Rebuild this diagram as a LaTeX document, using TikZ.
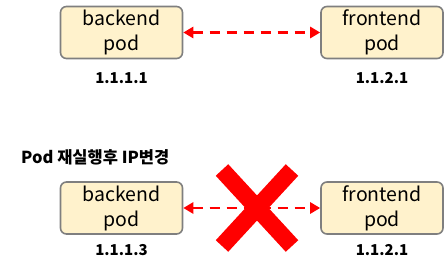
\documentclass[tikz,border=0pt]{standalone}
\usepackage{fontspec}
\setmainfont{Noto Sans CJK KR}
\usetikzlibrary{arrows.meta}
\definecolor{podfill}{HTML}{FFF2CC}
\definecolor{podline}{HTML}{7F7F7F}
\definecolor{xred}{HTML}{FF0000}
\tikzset{
  podbox/.style={draw=podline, line width=1.6pt, fill=podfill, rounded corners=6pt,
    minimum width=122pt, minimum height=52pt, align=center, inner sep=0pt,
    font=\fontsize{19.5}{25}\selectfont},
  iplabel/.style={font=\fontsize{15}{17}\selectfont\bfseries, inner sep=0pt},
  titlelabel/.style={font=\fontsize{16.5}{18}\selectfont\bfseries, inner sep=0pt},
  link/.style={draw=xred, line width=2.6pt, dash pattern=on 10pt off 7pt,
    {Triangle[length=10pt,width=11pt]}-{Triangle[length=10pt,width=11pt]}},
  cross/.style={draw=xred, line width=17pt, line cap=butt}
}
\begin{document}
\begin{tikzpicture}[x=1pt,y=-1pt]
\useasboundingbox (0,0) rectangle (444,270);
% top row
\node[podbox] (b1) at (121.5,32.5) {backend\\pod};
\node[podbox] (f1) at (382,32.5) {frontend\\pod};
\node[iplabel] (l1) at (121.5,78) {1.1.1.1};
\node[iplabel] (l2) at (382,78) {1.1.2.1};
\draw[link] (b1.east) -- (f1.west);
% bottom row
\node[titlelabel, anchor=west] (title) at (21,157) {Pod 재실행후 IP변경};
\node[podbox] (b2) at (121.5,208) {backend\\pod};
\node[podbox] (f2) at (382,208) {frontend\\pod};
\node[iplabel] (l3) at (121.5,250) {1.1.1.3};
\node[iplabel] (l4) at (382,250) {1.1.2.1};
\draw[link] (b2.east) -- (f2.west);
\coordinate (xa) at (222,170);
\coordinate (xb) at (292,246);
\coordinate (xc) at (292,170);
\coordinate (xd) at (222,246);
\draw[cross] (xa) -- (xb);
\draw[cross] (xc) -- (xd);
\end{tikzpicture}
\end{document}
